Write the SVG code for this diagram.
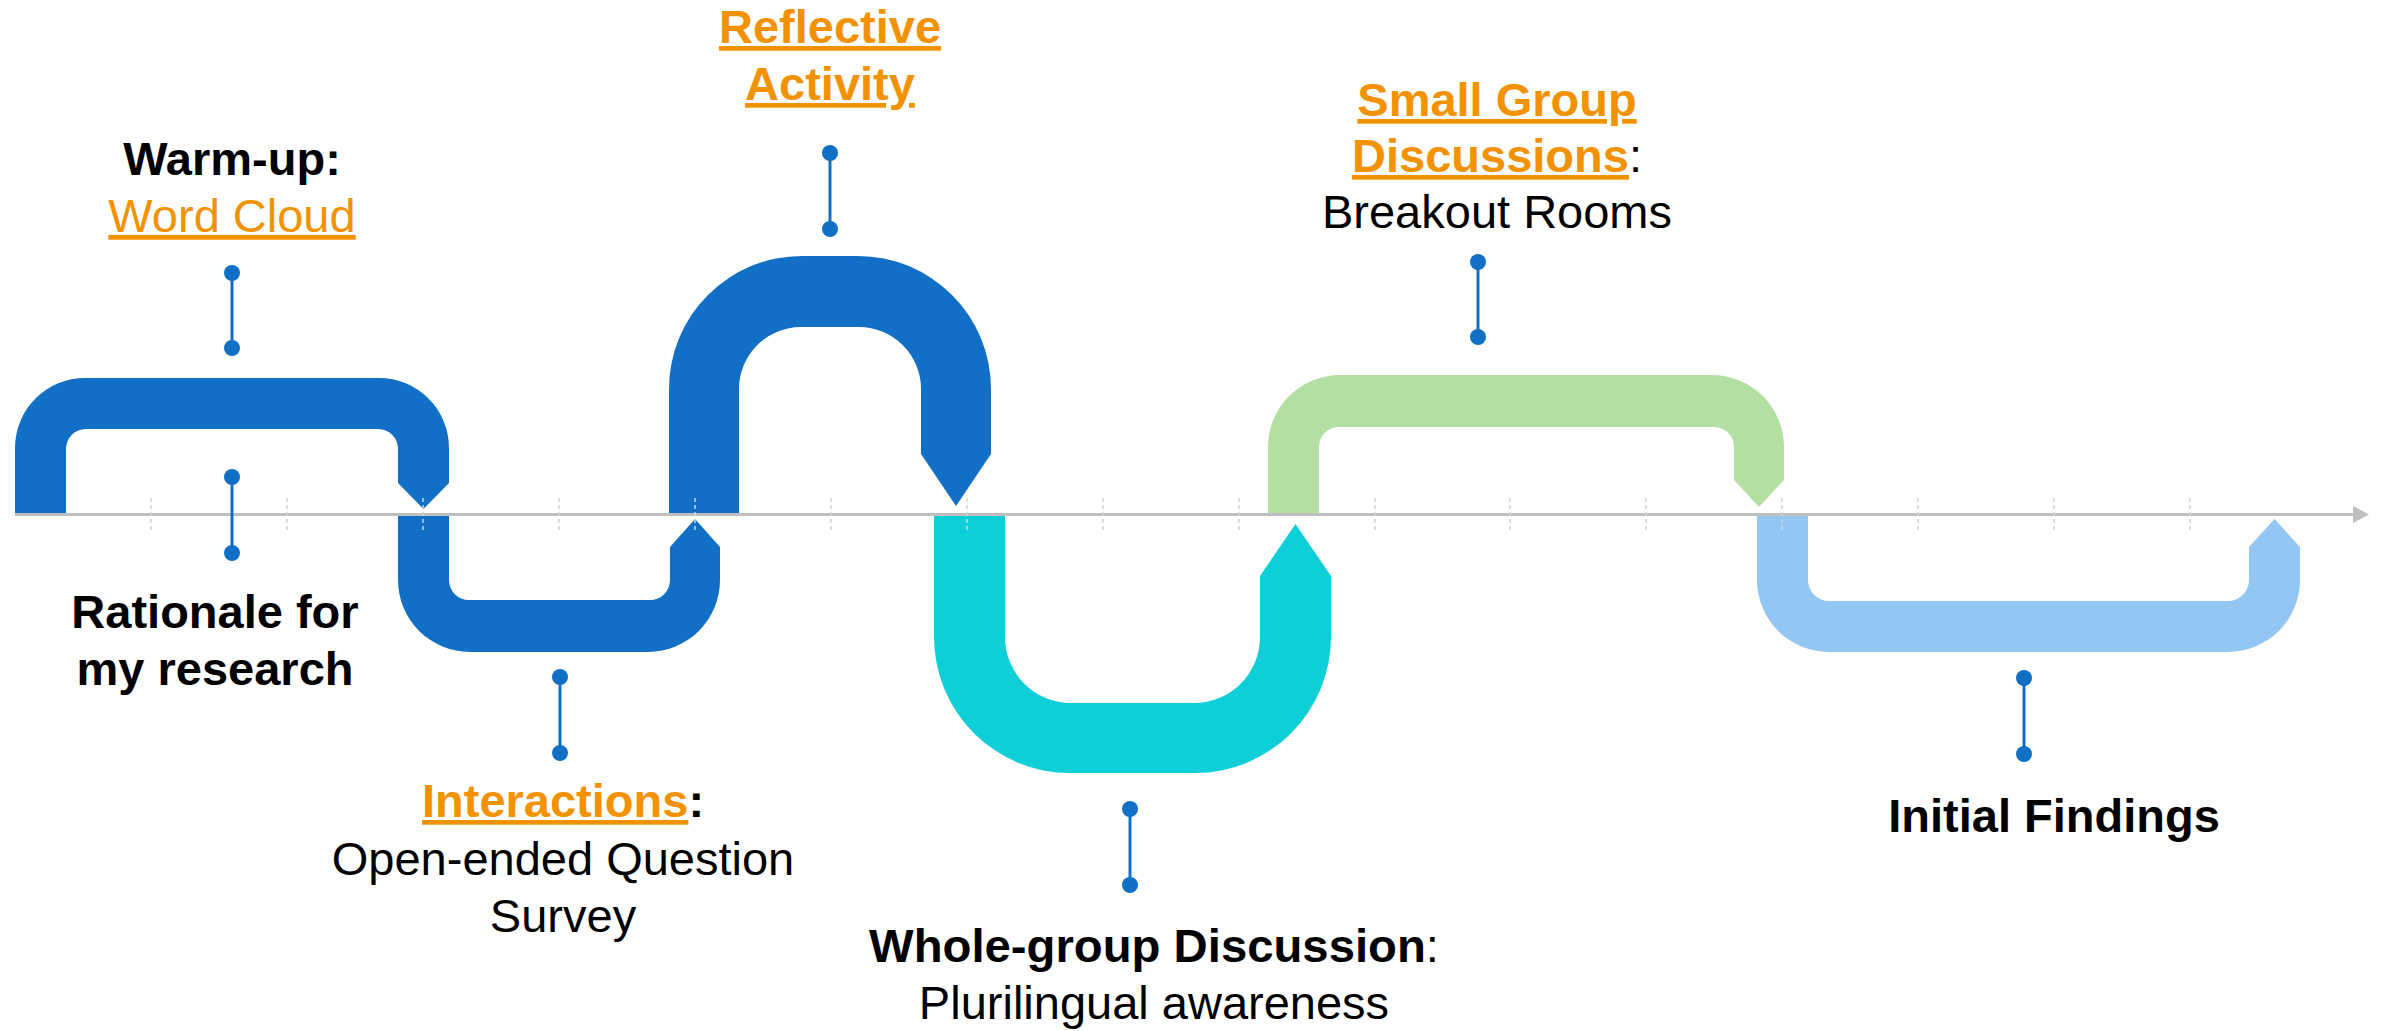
<svg xmlns="http://www.w3.org/2000/svg" width="2385" height="1031" viewBox="0 0 2385 1031">
<style>
  text { font-family: "Liberation Sans", Arial, sans-serif; font-size: 47px; fill: #000; text-anchor: middle; }
  .b { font-weight: bold; }
  .o { fill: #F39200; text-decoration: underline; }
  .n { font-weight: normal; }
  .tick { stroke: #D4D4D4; stroke-width: 1.5; stroke-dasharray: 4 3; }
  .conn line { stroke: #1170C6; stroke-width: 3; }
  .conn circle { fill: #1170C6; }
  .s1 { fill: #1170C6; }
  .s2 { fill: #0ECFD8; }
  .s3 { fill: #B3DFA3; }
  .s4 { fill: #94C6F4; }
</style>
<rect width="2385" height="1031" fill="#fff"/>

<g id="segment-1"><path class="s1" d="M15,514 L15,448 A70,70 0 0 1 85,378 L379,378 A70,70 0 0 1 449,448 L449,483 L423.5,509 L398,483 L398,449 A20,20 0 0 0 378,429 L86,429 A20,20 0 0 0 66,449 L66,514 Z"/></g>
<g id="segment-2"><path class="s1" d="M398,516 L449,516 L449,580 A20,20 0 0 0 469,600 L650,600 A20,20 0 0 0 670,580 L670,547 L695,519 L720,547 L720,580 A72,72 0 0 1 648,652 L470,652 A72,72 0 0 1 398,580 Z"/></g>
<g id="segment-3"><path class="s1" d="M669,514 L669,389 A133,133 0 0 1 802,256 L858,256 A133,133 0 0 1 991,389 L991,454 L956,506 L921,454 L921,389 A62,62 0 0 0 859,327 L801,327 A62,62 0 0 0 739,389 L739,514 Z"/></g>
<g id="segment-4"><path class="s2" d="M934,516 L1005,516 L1005,637 A66,66 0 0 0 1071,703 L1194,703 A66,66 0 0 0 1260,637 L1260,576 L1295.5,524 L1331,576 L1331,637 A136,136 0 0 1 1195,773 L1070,773 A136,136 0 0 1 934,637 Z"/></g>
<g id="segment-5"><path class="s3" d="M1268,514 L1268,447 A72,72 0 0 1 1340,375 L1712,375 A72,72 0 0 1 1784,447 L1784,480 L1759,507 L1734,480 L1734,447 A20,20 0 0 0 1714,427 L1339,427 A20,20 0 0 0 1319,447 L1319,514 Z"/></g>
<g id="segment-6"><path class="s4" d="M1757,516 L1808,516 L1808,580 A21,21 0 0 0 1829,601 L2228,601 A21,21 0 0 0 2249,580 L2249,547 L2274.5,519 L2300,547 L2300,580 A72,72 0 0 1 2228,652 L1829,652 A72,72 0 0 1 1757,580 Z"/></g>

<g id="axis">
  <line x1="15" y1="514.5" x2="2355" y2="514.5" stroke="#BFBFBF" stroke-width="3"/>
  <polygon points="2353,506 2369,514.5 2353,523" fill="#BFBFBF"/>
  <line class="tick" x1="151" y1="498" x2="151" y2="532"/>
  <line class="tick" x1="287" y1="498" x2="287" y2="532"/>
  <line class="tick" x1="423" y1="498" x2="423" y2="532"/>
  <line class="tick" x1="559" y1="498" x2="559" y2="532"/>
  <line class="tick" x1="695" y1="498" x2="695" y2="532"/>
  <line class="tick" x1="831" y1="498" x2="831" y2="532"/>
  <line class="tick" x1="967" y1="498" x2="967" y2="532"/>
  <line class="tick" x1="1103" y1="498" x2="1103" y2="532"/>
  <line class="tick" x1="1239" y1="498" x2="1239" y2="532"/>
  <line class="tick" x1="1375" y1="498" x2="1375" y2="532"/>
  <line class="tick" x1="1510" y1="498" x2="1510" y2="532"/>
  <line class="tick" x1="1646" y1="498" x2="1646" y2="532"/>
  <line class="tick" x1="1782" y1="498" x2="1782" y2="532"/>
  <line class="tick" x1="1918" y1="498" x2="1918" y2="532"/>
  <line class="tick" x1="2054" y1="498" x2="2054" y2="532"/>
  <line class="tick" x1="2190" y1="498" x2="2190" y2="532"/>
</g>

<g id="connectors" class="conn">
  <line x1="232" y1="273" x2="232" y2="348"/><circle cx="232" cy="273" r="8"/><circle cx="232" cy="348" r="8"/>
  <line x1="232" y1="477" x2="232" y2="553"/><circle cx="232" cy="477" r="8"/><circle cx="232" cy="553" r="8"/>
  <line x1="560" y1="677" x2="560" y2="753"/><circle cx="560" cy="677" r="8"/><circle cx="560" cy="753" r="8"/>
  <line x1="830" y1="153" x2="830" y2="229"/><circle cx="830" cy="153" r="8"/><circle cx="830" cy="229" r="8"/>
  <line x1="1130" y1="809" x2="1130" y2="885"/><circle cx="1130" cy="809" r="8"/><circle cx="1130" cy="885" r="8"/>
  <line x1="1478" y1="262" x2="1478" y2="337"/><circle cx="1478" cy="262" r="8"/><circle cx="1478" cy="337" r="8"/>
  <line x1="2024" y1="678" x2="2024" y2="754"/><circle cx="2024" cy="678" r="8"/><circle cx="2024" cy="754" r="8"/>
</g>

<g id="label-warmup">
  <text x="232" y="175" class="b">Warm-up:</text>
  <text x="232" y="232"><tspan class="o">Word Cloud</tspan></text>
</g>
<g id="label-rationale">
  <text x="215" y="628" class="b">Rationale for</text>
  <text x="215" y="685" class="b">my research</text>
</g>
<g id="label-interactions">
  <text x="563" y="817" class="b"><tspan class="o">Interactions</tspan>:</text>
  <text x="563" y="875">Open-ended Question</text>
  <text x="563" y="932">Survey</text>
</g>
<g id="label-reflective">
  <text x="830" y="43" class="b"><tspan class="o">Reflective</tspan></text>
  <text x="830" y="100" class="b"><tspan class="o">Activity</tspan></text>
</g>
<g id="label-wholegroup">
  <text x="1154" y="962" class="b" textLength="570" lengthAdjust="spacingAndGlyphs">Whole-group Discussion<tspan class="n">:</tspan></text>
  <text x="1154" y="1019">Plurilingual awareness</text>
</g>
<g id="label-smallgroup">
  <text x="1497" y="116" class="b"><tspan class="o">Small Group</tspan></text>
  <text x="1497" y="172" class="b"><tspan class="o">Discussions</tspan><tspan class="n">:</tspan></text>
  <text x="1497" y="228">Breakout Rooms</text>
</g>
<g id="label-findings">
  <text x="2054" y="832" class="b">Initial Findings</text>
</g>
</svg>
